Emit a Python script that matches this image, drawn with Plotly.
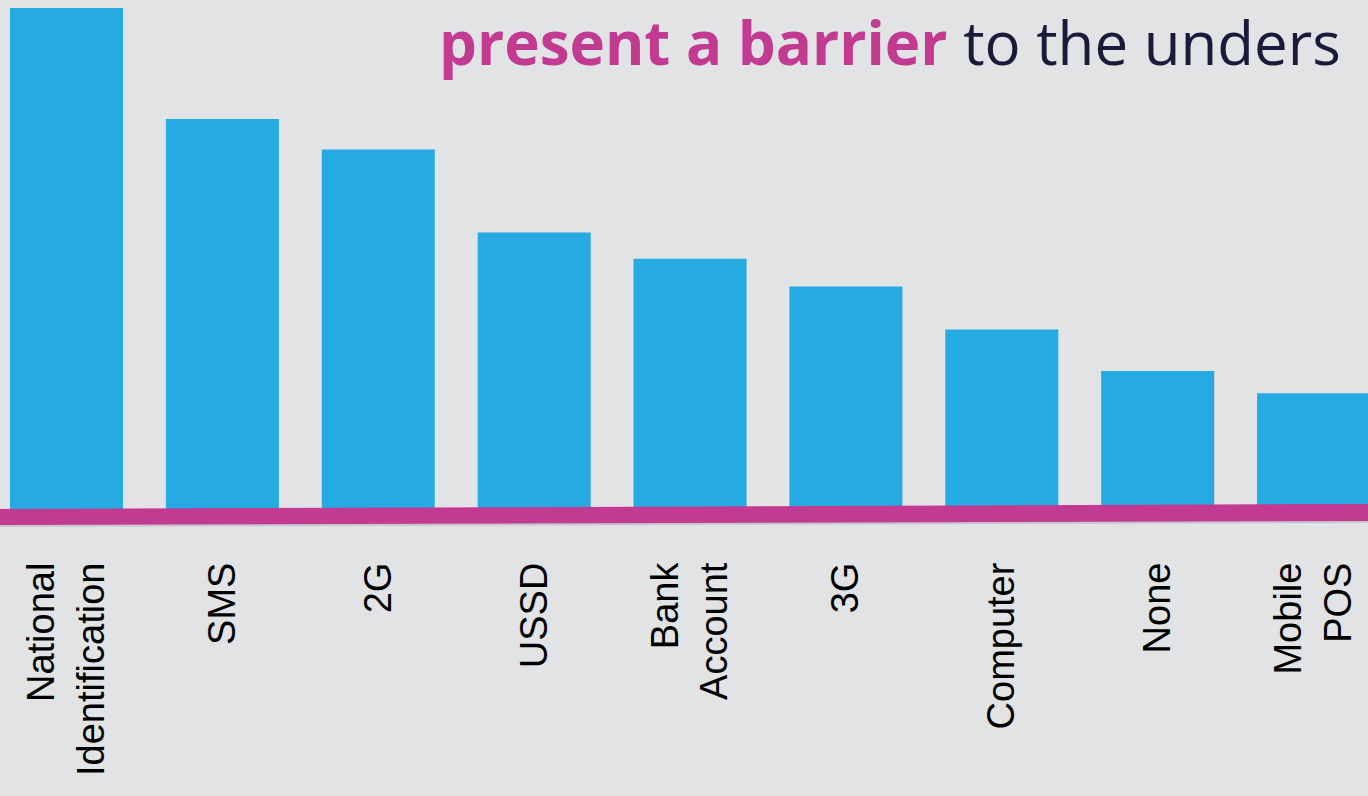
import plotly.graph_objects as go

categories = ["National<br>Identification", "SMS", "2G", "USSD", "Bank<br>Account",
              "3G", "Computer", "None", "Mobile<br>POS"]
values = [42.0, 32.75, 30.2, 23.3, 21.1, 18.8, 15.2, 11.75, 9.9]

BG = "#E2E3E5"
BLUE = "#27A9E1"
MAGENTA = "#C23A92"
NAVY = "#1B1A3A"

W, H = 1368, 796
plot_h = 512

fig = go.Figure()
fig.add_trace(go.Bar(x=categories, y=values, marker=dict(color=BLUE, line=dict(width=0)),
                     hoverinfo="skip"))

def py(p):
    return (plot_h - p) / plot_h

fig.add_shape(type="path", xref="paper", yref="paper",
              path=f"M 0 {py(511)} L 1 {py(506)} L 1 {py(523)} L 0 {py(527)} Z",
              fillcolor="rgba(0,0,0,0.12)", line=dict(width=0), layer="above")
fig.add_shape(type="path", xref="paper", yref="paper",
              path=f"M 0 {py(509)} L 1 {py(504)} L 1 {py(521)} L 0 {py(525)} Z",
              fillcolor=MAGENTA, line=dict(width=0), layer="above")

fig.add_annotation(xref="paper", yref="paper", x=438 / W, y=1, xanchor="left", yanchor="top",
                   text=f"<b><span style='color:{MAGENTA}'>present a barrier</span></b> "
                        f"<span style='color:{NAVY}'>to the unders</span>",
                   showarrow=False, borderpad=0,
                   font=dict(family="Open Sans, Lato, sans-serif", size=60))

fig.update_layout(
    width=W, height=H,
    margin=dict(l=0, r=0, t=0, b=H - plot_h),
    paper_bgcolor=BG, plot_bgcolor=BG,
    bargap=0.275, showlegend=False,
    xaxis=dict(range=[-0.4266, 8.349], tickangle=-90, showgrid=False, showline=False,
               zeroline=False, ticks="", ticklabelstandoff=42,
               tickfont=dict(family="Liberation Sans, Arial, sans-serif", size=38, color="#000000")),
    yaxis=dict(range=[0, plot_h / 12], visible=False, showgrid=False, zeroline=False),
)

fig.write_html("out.html", config={"displayModeBar": False},
               post_script="document.body.style.margin='0';document.body.style.background='%s';" % BG)
